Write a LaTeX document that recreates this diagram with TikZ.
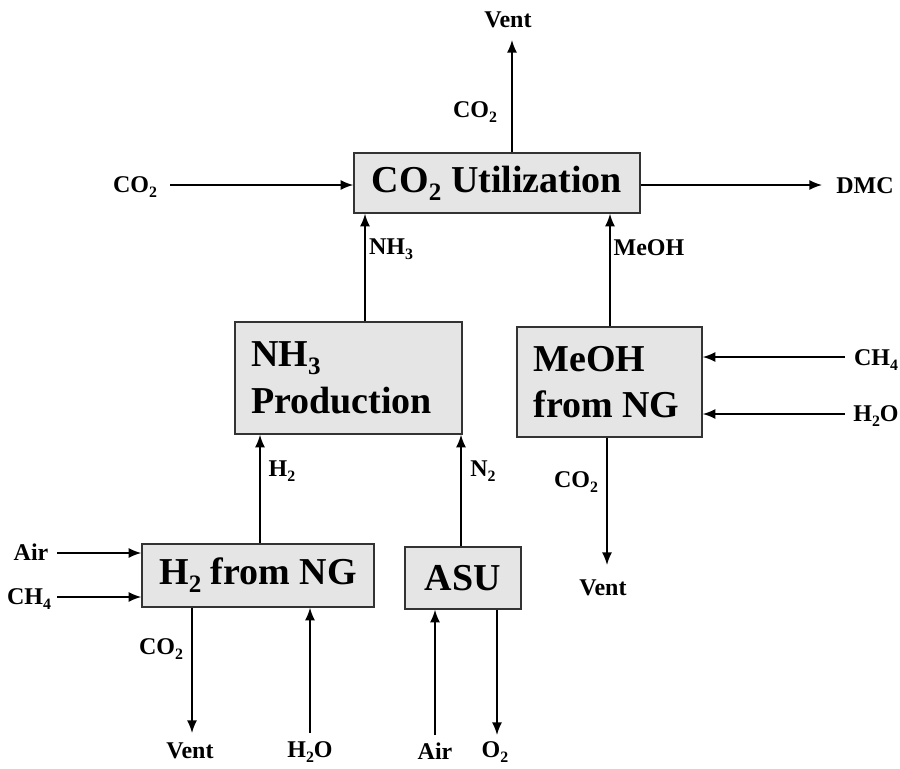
\documentclass[tikz,border=0pt]{standalone}
\usepackage{fontspec}
\usepackage{graphicx}
\setmainfont{Liberation Serif}
\usetikzlibrary{arrows.meta}
\newcommand\lowsub[1]{\raisebox{-0.45ex}{\scalebox{0.66}{#1}}}
\tikzset{
  box/.style={draw=black!80, line width=1.1pt, fill=black!10, inner sep=0pt, rectangle,
    font=\bfseries\fontsize{28.5}{35}\selectfont},
  lbl/.style={inner sep=0pt, font=\bfseries\fontsize{18}{21}\selectfont},
  arr/.style={line width=1.1pt, -{Latex[length=9.5pt,width=7.5pt]}}
}
\begin{document}
\begin{tikzpicture}[x=0.75pt,y=-0.75pt]
\useasboundingbox (0,0) rectangle (900,768);
% boxes
\node[box, minimum width=214.5pt, minimum height=45pt] (util) at (497,183) {CO\lowsub{2} Utilization};
\node[box, minimum width=170.25pt, minimum height=84pt, align=left] (nh3) at (348.5,378) {NH\lowsub{3}\\Production\hspace*{10.5pt}};
\node[box, minimum width=138.75pt, minimum height=82.5pt, align=left] (meoh) at (609.5,382) {MeOH\\from NG\hspace*{4.5pt}};
\node[box, minimum width=174pt, minimum height=47.25pt] (h2) at (258,575.5) {H\lowsub{2} from NG};
\node[box, minimum width=87pt, minimum height=46.5pt] (asu) at (463,578) {ASU};
% labels
\node[lbl] (ventT) at (508,20) {Vent};
\node[lbl] (co2T) at (475,112) {CO\lowsub{2}};
\node[lbl] (co2L) at (135,187) {CO\lowsub{2}};
\node[lbl] (dmc) at (865,186) {DMC};
\node[lbl] (nh3L) at (391,249) {NH\lowsub{3}};
\node[lbl] (meohL) at (649,248) {MeOH};
\node[lbl] (h2L) at (282,471) {H\lowsub{2}};
\node[lbl] (n2L) at (483,471) {N\lowsub{2}};
\node[lbl] (ch4R) at (876,360) {CH\lowsub{4}};
\node[lbl] (h2oR) at (876,416) {H\lowsub{2}O};
\node[lbl] (co2M) at (576,482) {CO\lowsub{2}};
\node[lbl] (ventM) at (603,588) {Vent};
\node[lbl] (airL) at (31,552) {Air};
\node[lbl] (ch4L) at (29,599) {CH\lowsub{4}};
\node[lbl] (co2H) at (161,649) {CO\lowsub{2}};
\node[lbl] (ventB) at (190,751) {Vent};
\node[lbl] (h2oB) at (310,752) {H\lowsub{2}O};
\node[lbl] (airB) at (435,751) {Air};
\node[lbl] (o2B) at (495,752) {O\lowsub{2}};
% free ends
\coordinate (cVentT) at (512,40);
\coordinate (cCO2L) at (170,185);
\coordinate (cDMC) at (822,185);
\coordinate (cCH4R) at (845,357);
\coordinate (cH2OR) at (845,414);
\coordinate (cVentM) at (607,565);
\coordinate (cAirL) at (57,553);
\coordinate (cCH4L) at (57,597);
\coordinate (cVentB) at (192,733);
\coordinate (cH2OB) at (310,733);
\coordinate (cAirB) at (435,735);
\coordinate (cO2B) at (497,735);
\coordinate (xNH3) at (365,0);
\coordinate (xMeOH) at (610,0);
\coordinate (xH2) at (260,0);
\coordinate (xN2) at (461,0);
% connectors
\draw[arr] (util.north -| cVentT) -- (cVentT);
\draw[arr] (cCO2L) -- (cCO2L -| util.west);
\draw[arr] (cDMC -| util.east) -- (cDMC);
\draw[arr] (xNH3 |- nh3.north) -- (xNH3 |- util.south);
\draw[arr] (xMeOH |- meoh.north) -- (xMeOH |- util.south);
\draw[arr] (xH2 |- h2.north) -- (xH2 |- nh3.south);
\draw[arr] (xN2 |- asu.north) -- (xN2 |- nh3.south);
\draw[arr] (cCH4R) -- (cCH4R -| meoh.east);
\draw[arr] (cH2OR) -- (cH2OR -| meoh.east);
\draw[arr] (cVentM |- meoh.south) -- (cVentM);
\draw[arr] (cAirL) -- (cAirL -| h2.west);
\draw[arr] (cCH4L) -- (cCH4L -| h2.west);
\draw[arr] (cVentB |- h2.south) -- (cVentB);
\draw[arr] (cH2OB) -- (cH2OB |- h2.south);
\draw[arr] (cAirB) -- (cAirB |- asu.south);
\draw[arr] (cO2B |- asu.south) -- (cO2B);
\end{tikzpicture}
\end{document}
